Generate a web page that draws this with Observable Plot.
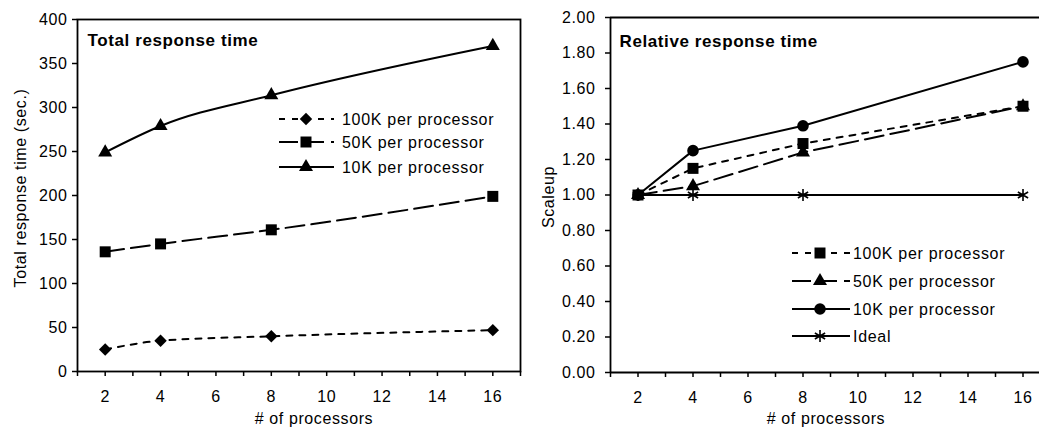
<!DOCTYPE html>
<html>
<head>
<meta charset="utf-8">
<script src="https://cdn.jsdelivr.net/npm/d3@7"></script>
<script src="https://cdn.jsdelivr.net/npm/@observablehq/plot@0.6"></script>
<style>
  html, body { margin: 0; padding: 0; background: #fff; }
  #wrap { position: relative; width: 1039px; height: 428px; overflow: hidden; background: #fff; }
  #wrap > div, #wrap > svg { position: absolute; top: 0; }
</style>
</head>
<body>
<div id="wrap"></div>
<script>
// ---------- data ----------
const processors = [2, 4, 8, 16];

// Left: total response time (sec.)
const total100K = [25, 35, 40, 47];
const total50K  = [136, 145, 161, 199];
const total10K  = [249, 279, 314, 370];

// Right: relative response time (scaleup)
const rel100K  = [1.00, 1.15, 1.29, 1.50];
const rel50K   = [1.00, 1.05, 1.24, 1.50];
const rel10K   = [1.00, 1.25, 1.39, 1.75];
const relIdeal = [1.00, 1.00, 1.00, 1.00];

const leftSeries = [
  {name: "100K per processor", values: total100K, symbol: "diamond2", r: 5.6, dash: "6,7"},
  {name: "50K per processor",  values: total50K,  symbol: "square",   r: 6.2, dash: "19,7"},
  {name: "10K per processor",  values: total10K,  symbol: "triangle", r: 5.2, dash: null}
];
const rightSeries = [
  {name: "100K per processor", values: rel100K,  symbol: "square",   r: 6.2, dash: "6,7"},
  {name: "50K per processor",  values: rel50K,   symbol: "triangle", r: 5.2, dash: "19,7"},
  {name: "10K per processor",  values: rel10K,   symbol: "circle",   r: 5.8, dash: null},
  {name: "Ideal",              values: relIdeal, symbol: "asterisk", r: 5.6, dash: null}
];

const xTicks = d3.range(1, 18);
const yTicksLeft = d3.range(0, 401, 50);
const yTicksRight = d3.range(0, 11).map(i => i * 0.2);

const leftTitle = "Total response time";
const rightTitle = "Relative response time";
const leftYLabel = "Total response time (sec.)";
const rightYLabel = "Scaleup";
const xLabel = "# of processors";

// ---------- helpers ----------
const FONT = "'Liberation Sans', Arial, sans-serif";
function seriesMarks(series, curve) {
  const marks = [];
  for (const s of series) {
    const data = processors.map((p, i) => ({x: p, y: s.values[i]}));
    marks.push(Plot.line(data, {x: "x", y: "y", stroke: "black", strokeWidth: 2,
      strokeDasharray: s.dash ?? undefined, curve}));
  }
  for (const s of series) {
    const data = processors.map((p, i) => ({x: p, y: s.values[i]}));
    const stroke = s.symbol === "asterisk" ? "black" : "none";
    marks.push(Plot.dot(data, {x: "x", y: "y", symbol: () => s.symbol, r: s.r,
      fill: s.symbol === "asterisk" ? "none" : "black", stroke, strokeWidth: 1.6}));
  }
  return marks;
}
const symMap = {diamond2: d3.symbolDiamond2, square: d3.symbolSquare, triangle: d3.symbolTriangle,
  circle: d3.symbolCircle, asterisk: d3.symbolAsterisk};
function addLegend(svg, series, cfg) {
  const g = d3.select(svg).append("g").attr("font-family", FONT).attr("font-size", 16)
    .attr("letter-spacing", "0.7px");
  series.forEach((s, i) => {
    const y = cfg.ys[i];
    g.append("line").attr("x1", cfg.x0).attr("x2", cfg.x1).attr("y1", y).attr("y2", y)
      .attr("stroke", "black").attr("stroke-width", 2)
      .attr("stroke-dasharray", s.dash ?? null);
    g.append("path").attr("transform", `translate(${cfg.xm},${y})`)
      .attr("d", d3.symbol(symMap[s.symbol], Math.PI * s.r * s.r)())
      .attr("fill", s.symbol === "asterisk" ? "none" : "black")
      .attr("stroke", s.symbol === "asterisk" ? "black" : "none")
      .attr("stroke-width", 1.6);
    g.append("text").attr("x", cfg.xt).attr("y", y).attr("dy", "0.35em")
      .attr("text-anchor", "start").attr("fill", "black").text(s.name);
  });
}
function addLabels(svg, cfg) {
  const g = d3.select(svg).append("g").attr("font-family", FONT).attr("font-size", 16)
    .attr("letter-spacing", "0.6px").attr("fill", "black").attr("text-anchor", "middle");
  g.append("text").attr("transform", `translate(${cfg.yx},${cfg.yy}) rotate(-90)`)
    .attr("dy", "0.35em").text(cfg.yText);
  g.append("text").attr("x", cfg.xx).attr("y", cfg.xy).attr("dy", "0.35em").text(cfg.xText);
}

const baseStyle = {fontFamily: FONT, fontSize: "16px", letterSpacing: "0.6px", color: "black",
  background: "transparent", overflow: "visible"};

// ---------- left chart ----------
const left = Plot.plot({
  width: 522, height: 428,
  marginLeft: 77, marginRight: 2, marginTop: 19, marginBottom: 57,
  x: {domain: [1, 17]},
  y: {domain: [0, 400]},
  style: baseStyle,
  marks: [
    Plot.axisY({ticks: yTicksLeft, tickSize: 5, tickPadding: 5, label: null, strokeWidth: 1.5}),
    Plot.axisX({ticks: xTicks, tickSize: 5, tickPadding: 14, label: null, strokeWidth: 1.5,
      tickFormat: d => d % 2 === 0 ? String(d) : ""}),
    Plot.frame({stroke: "black", strokeWidth: 1.8}),
    ...seriesMarks(leftSeries, "monotone-x"),
    Plot.text([leftTitle], {frameAnchor: "top-left", dx: 10, dy: 21, textAnchor: "start",
      fontWeight: "bold", fontSize: 17, lineAnchor: "middle"})
  ]
});
left.style.left = "0px";
addLegend(left, leftSeries, {x0: 279, x1: 334, xm: 306, xt: 342, ys: [119, 142, 167]});
addLabels(left, {yx: 20, yy: 188, yText: leftYLabel, xx: 314, xy: 418, xText: xLabel});

// ---------- right chart ----------
const right = Plot.plot({
  width: 519, height: 428,
  marginLeft: 90, marginRight: 0, marginTop: 17, marginBottom: 56,
  x: {domain: [1, 16.6]},
  y: {domain: [0, 2]},
  style: baseStyle,
  marks: [
    Plot.axisY({ticks: yTicksRight, tickSize: 5, tickPadding: 10, label: null, strokeWidth: 1.5,
      tickFormat: d3.format(".2f")}),
    Plot.axisX({ticks: xTicks.filter(d => d <= 16), tickSize: 5, tickPadding: 14, label: null, strokeWidth: 1.5,
      tickFormat: d => d % 2 === 0 ? String(d) : ""}),
    Plot.ruleY([0, 2], {stroke: "black", strokeWidth: 1.8}),
    Plot.ruleX([1], {stroke: "black", strokeWidth: 1.8}),
    ...seriesMarks(rightSeries, "linear"),
    Plot.text([rightTitle], {frameAnchor: "top-left", dx: 9, dy: 24, textAnchor: "start",
      fontWeight: "bold", fontSize: 17, lineAnchor: "middle"})
  ]
});
right.style.left = "520px";
addLegend(right, rightSeries, {x0: 272, x1: 330, xm: 300, xt: 333, ys: [253, 281, 309, 336]});
addLabels(right, {yx: 28, yy: 197, yText: rightYLabel, xx: 306, xy: 418, xText: xLabel});

const wrap = document.getElementById("wrap");
wrap.appendChild(left);
wrap.appendChild(right);
</script>
</body>
</html>
